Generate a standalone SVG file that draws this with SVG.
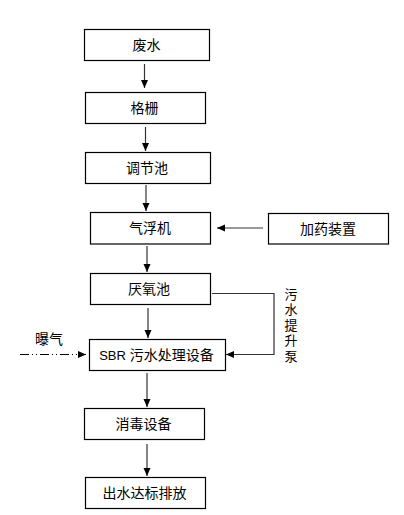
<svg xmlns="http://www.w3.org/2000/svg" width="404" height="515" viewBox="0 0 404 515">
<style>
.box{fill:#fff;stroke:#000;stroke-width:1.2}
.t{font-family:"Liberation Sans","Noto Sans CJK SC",sans-serif;font-size:14px;fill:#000;text-anchor:middle;dominant-baseline:central}
.v{font-family:"Noto Sans CJK SC",sans-serif;font-size:13px;fill:#000;writing-mode:vertical-rl;letter-spacing:2.5px}
.c{fill:none;stroke:#333;stroke-width:1.2}
.g{fill:none;stroke:#777;stroke-width:1.5}
</style>
<defs>
<marker id="ah" markerUnits="userSpaceOnUse" markerWidth="8" markerHeight="8" viewBox="0 0 8 8" refX="8" refY="4" orient="auto">
<path d="M0,0.5 L8,4 L0,7.5 Z" fill="#000"/>
</marker>
</defs>
<rect width="404" height="515" fill="#fff"/>
<g id="connectors">
<line class="c" x1="144.5" y1="64" x2="144.5" y2="88" marker-end="url(#ah)"/>
<line class="c" x1="145.5" y1="127" x2="145.5" y2="151" marker-end="url(#ah)"/>
<line class="c" x1="146" y1="185" x2="146" y2="211" marker-end="url(#ah)"/>
<line class="g" x1="263" y1="228" x2="217" y2="228" marker-end="url(#ah)"/>
<line class="c" x1="147" y1="246" x2="147" y2="272" marker-end="url(#ah)"/>
<polyline class="c" points="212,293.5 274,293.5 274,354.5 226,354.5" marker-end="url(#ah)"/>
<line class="c" x1="148" y1="308" x2="148" y2="338" marker-end="url(#ah)"/>
<line x1="20" y1="354.5" x2="86" y2="354.5" stroke="#000" stroke-width="1.2" stroke-dasharray="9 3 1 3 1 3" marker-end="url(#ah)"/>
<line class="c" x1="147" y1="373" x2="147" y2="407" marker-end="url(#ah)"/>
<line class="c" x1="147" y1="444" x2="147" y2="476" marker-end="url(#ah)"/>
</g>
<g id="n1"><rect class="box" x="84.5" y="29.5" width="125" height="31"/><text class="t" x="146.5" y="45">废水</text></g>
<g id="n2"><rect class="box" x="85.5" y="92.5" width="120" height="31"/><text class="t" x="144.5" y="108">格栅</text></g>
<g id="n3"><rect class="box" x="85.5" y="152.5" width="125" height="31"/><text class="t" x="147" y="168">调节池</text></g>
<g id="n4"><rect class="box" x="90.5" y="212.5" width="120" height="31.5"/><text class="t" x="150" y="228">气浮机</text></g>
<g id="n5"><rect class="box" x="268.5" y="213.5" width="120" height="30.5"/><text class="t" x="328" y="228.5">加药装置</text></g>
<g id="n6"><rect class="box" x="90.5" y="273.5" width="120" height="31"/><text class="t" x="149" y="289">厌氧池</text></g>
<g id="n7"><rect class="box" x="89.5" y="339.5" width="136" height="31"/><text class="t" x="156.5" y="355"><tspan font-size="13">SBR</tspan> 污水处理设备</text></g>
<g id="n8"><rect class="box" x="84.5" y="408.5" width="120" height="31"/><text class="t" x="143.5" y="424">消毒设备</text></g>
<g id="n9"><rect class="box" x="85.5" y="477.5" width="120" height="31"/><text class="t" x="144.5" y="493">出水达标排放</text></g>
<g id="label-pump"><text class="v" x="291" y="287.5">污水提升泵</text></g>
<g id="label-air"><text class="t" x="49" y="339">曝气</text></g>
</svg>
